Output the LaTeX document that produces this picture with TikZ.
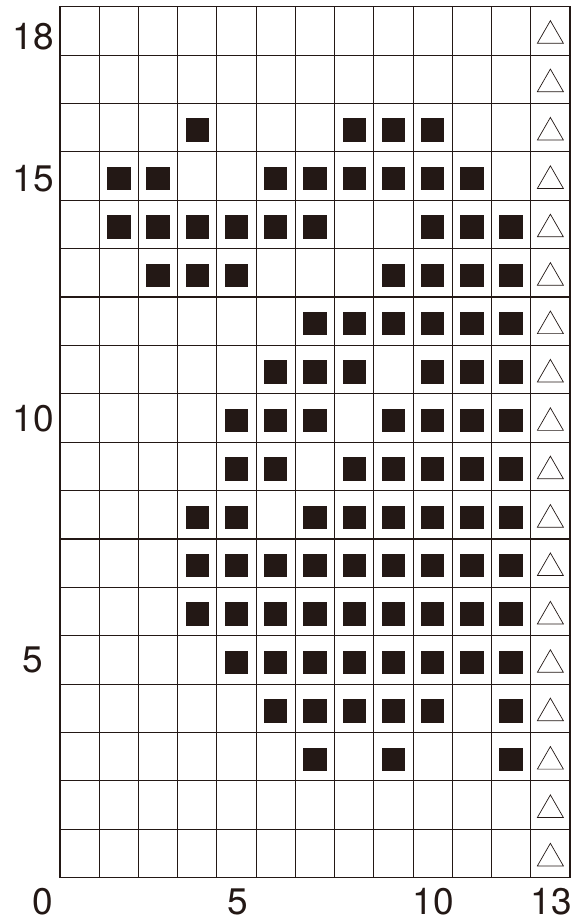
\documentclass[tikz,border=0pt]{standalone}
\usepackage{fontspec}
\setmainfont{TeX Gyre Heros}
\usetikzlibrary{calc}
\definecolor{ink}{HTML}{231815}
\tikzset{
  gridline/.style={draw=ink, line width=1.1pt, line cap=rect},
  cellsq/.style={fill=ink},
  tri/.style={draw=ink, line width=0.7pt, line join=miter},
  numlabel/.style={inner sep=0pt, text=ink, font=\fontsize{37}{37}\selectfont}
}
\newcommand{\sq}[2]{\fill[cellsq] ($(#1-0.5,#2-0.5)+(-11.7pt,-14.2pt)$) rectangle ++(23.4pt,23.4pt);}
\begin{document}
\begin{tikzpicture}[x=1pt,y=1pt]
\useasboundingbox[fill=white] (0,0) rectangle (573,922);
\begin{scope}[shift={(60,44.3)}, x=39.23pt, y=48.39pt]
  % grid
  \foreach \c in {0,...,13} { \draw[gridline] (\c,0) -- (\c,18); }
  \foreach \r in {0,...,18} { \draw[gridline] (0,\r) -- (13,\r); }
  % triangles in column 13
  \foreach \r in {1,...,18} {
    \draw[tri] ($(12.5,\r-0.5)+(0,10.2pt)$) -- ($(12.5,\r-0.5)+(13pt,-12.4pt)$) -- ($(12.5,\r-0.5)+(-13pt,-12.4pt)$) -- cycle;
  }
  % filled squares: row / columns
  \foreach \r/\cols in {
    16/{4,8,9,10},
    15/{2,3,6,7,8,9,10,11},
    14/{2,3,4,5,6,7,10,11,12},
    13/{3,4,5,9,10,11,12},
    12/{7,8,9,10,11,12},
    11/{6,7,8,10,11,12},
    10/{5,6,7,9,10,11,12},
    9/{5,6,8,9,10,11,12},
    8/{4,5,7,8,9,10,11,12},
    7/{4,5,6,7,8,9,10,11,12},
    6/{4,5,6,7,8,9,10,11,12},
    5/{5,6,7,8,9,10,11,12},
    4/{6,7,8,9,10,12},
    3/{7,9,12}} {
    \foreach \c in \cols { \sq{\c}{\r} }
  }
\end{scope}
% labels
\node[numlabel] (l18) at (33,885.5) {18};
\node[numlabel] (l15) at (33,743.5) {15};
\node[numlabel] (l10) at (33,503) {10};
\node[numlabel] (l5)  at (33,262) {5};
\node[numlabel] (b0)  at (43,20.5) {0};
\node[numlabel] (b5)  at (238,20.5) {5};
\node[numlabel] (b10) at (433.5,20.5) {10};
\node[numlabel] (b13) at (551,20.5) {13};
\end{tikzpicture}
\end{document}
